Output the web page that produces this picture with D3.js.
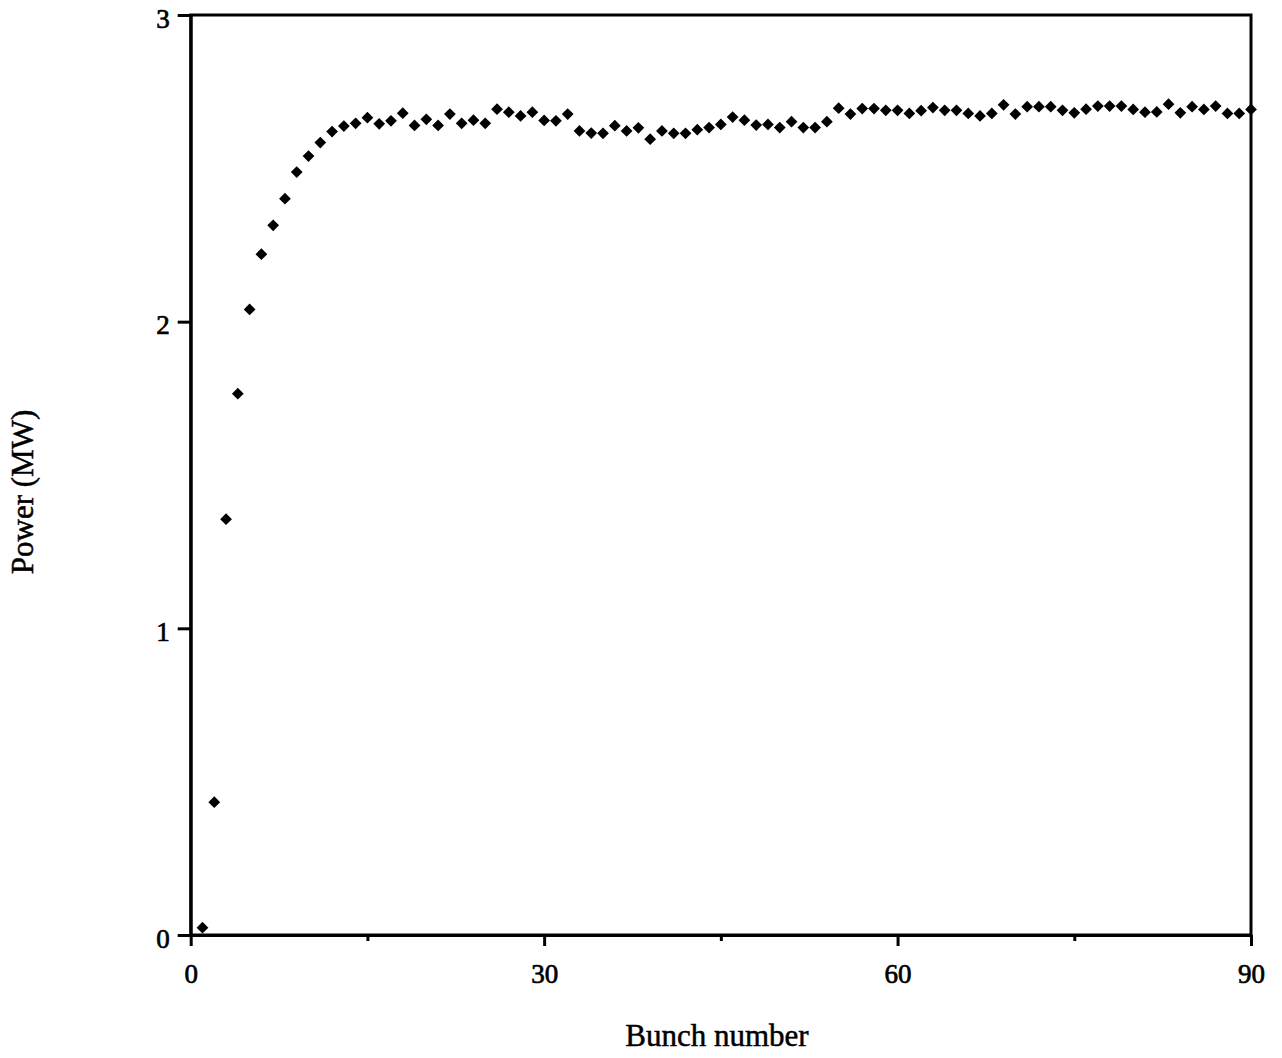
<!DOCTYPE html>
<html>
<head>
<meta charset="utf-8">
<script src="https://cdn.jsdelivr.net/npm/d3@7"></script>
<style>
  html, body { margin: 0; padding: 0; background: #fff; }
  svg { display: block; }
</style>
</head>
<body>
<svg id="chart" width="1282" height="1058"></svg>
<script>
// ---- data ----
const bunchNumbers = d3.range(1, 91);
const powerMW = [
  0.024, 0.433, 1.356, 1.765, 2.040, 2.220, 2.314, 2.401, 2.488, 2.540,
  2.584, 2.620, 2.638, 2.647, 2.665, 2.645, 2.655, 2.680, 2.640, 2.660,
  2.640, 2.677, 2.647, 2.657, 2.647, 2.693, 2.683, 2.671, 2.683, 2.656,
  2.655, 2.677, 2.622, 2.615, 2.614, 2.639, 2.622, 2.632, 2.595, 2.622,
  2.614, 2.614, 2.626, 2.633, 2.643, 2.667, 2.657, 2.641, 2.643, 2.633,
  2.652, 2.633, 2.633, 2.652, 2.696, 2.677, 2.695, 2.695, 2.689, 2.689,
  2.679, 2.688, 2.698, 2.689, 2.689, 2.679, 2.671, 2.679, 2.707, 2.677,
  2.701, 2.701, 2.701, 2.689, 2.681, 2.693, 2.703, 2.703, 2.703, 2.692,
  2.683, 2.684, 2.709, 2.681, 2.701, 2.692, 2.703, 2.679, 2.679, 2.692
];
const xMajorTicks = [0, 30, 60, 90];
const xMinorTicks = [15, 45, 75];
const yTicks = [0, 1, 2, 3];
const xTitle = "Bunch number";
const yTitle = "Power (MW)";

// ---- layout ----
const svg = d3.select("#chart");
const plotL = 190.7, plotR = 1251, plotT = 15, plotB = 935;
const x = d3.scaleLinear().domain([0, 90]).range([plotL, plotR]);
const y = d3.scaleLinear().domain([0, 3]).range([plotB, plotT]);
const font = "'Liberation Serif', 'Times New Roman', serif";

// frame
svg.append("rect")
  .attr("x", plotL).attr("y", plotT)
  .attr("width", plotR - plotL).attr("height", plotB - plotT)
  .attr("fill", "none").attr("stroke", "#000").attr("stroke-width", 3);

// x axis major
const gx = svg.append("g").attr("transform", `translate(0,${plotB})`)
  .call(d3.axisBottom(x).tickValues(xMajorTicks).tickFormat(d3.format("d"))
    .tickSize(11).tickSizeOuter(0).tickPadding(18));
// x minor
const gxm = svg.append("g").attr("transform", `translate(0,${plotB})`)
  .call(d3.axisBottom(x).tickValues(xMinorTicks).tickFormat("")
    .tickSize(6).tickSizeOuter(0));
gxm.select(".domain").remove();

// y axis
const gy = svg.append("g").attr("transform", `translate(${plotL},0)`)
  .call(d3.axisLeft(y).tickValues(yTicks).tickFormat(d3.format("d"))
    .tickSize(13).tickSizeOuter(0).tickPadding(8));

[gx, gxm, gy].forEach(g => {
  g.selectAll(".domain").attr("stroke", "#000").attr("stroke-width", 3);
  g.selectAll(".tick line").attr("stroke", "#000").attr("stroke-width", 3);
  g.selectAll(".tick text").attr("fill", "#000")
    .attr("stroke", "#000").attr("stroke-width", 0.7)
    .style("font-family", font).style("font-size", "27px");
});
gy.selectAll(".tick text").attr("dy", "0.45em");

// points
const sym = d3.symbol().type(d3.symbolDiamond2).size(88);
svg.append("g").selectAll("path")
  .data(bunchNumbers.map((b, i) => ({ b, p: powerMW[i] })))
  .join("path")
  .attr("transform", d => `translate(${x(d.b)},${y(d.p)})`)
  .attr("d", sym)
  .attr("fill", "#000");

// titles
svg.append("text")
  .attr("x", 717).attr("y", 1046)
  .attr("text-anchor", "middle")
  .attr("stroke", "#000").attr("stroke-width", 0.5)
  .style("font-family", font).style("font-size", "31px")
  .text(xTitle);

svg.append("text")
  .attr("transform", "translate(33,492) rotate(-90)")
  .attr("text-anchor", "middle")
  .attr("stroke", "#000").attr("stroke-width", 0.5)
  .style("font-family", font).style("font-size", "31px")
  .text(yTitle);
</script>
</body>
</html>
